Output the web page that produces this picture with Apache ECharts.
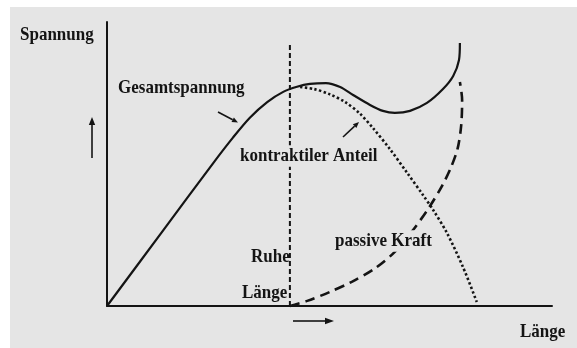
<!DOCTYPE html>
<html>
<head>
<meta charset="utf-8">
<script src="https://cdn.jsdelivr.net/npm/echarts@6/dist/echarts.min.js"></script>
<style>
html, body { margin: 0; padding: 0; background: #ffffff; }
#main { width: 577px; height: 348px; }
</style>
</head>
<body>
<div id="main"></div>
<script>
// Länge (0..100) / Spannung (0..100)
var totalX = [0, 12, 24, 28.3, 32.1, 36.0, 39.6, 42.7, 45.6, 49.2, 52.4, 55.3, 59.1, 62.0, 64.7, 68.1, 71.9, 75.5, 77.8, 79.1, 79.3];
var totalY = [0, 25.3, 50.6, 59.3, 66.3, 71.8, 75.4, 77.2, 78.2, 78.5, 77.1, 74.3, 70.8, 68.7, 68.0, 68.7, 71.5, 76.4, 81.0, 86.6, 92.6];

var activeX = [43.4, 46.5, 50.0, 53.5, 56.8, 59.8, 63.6, 67.4, 71.0, 73.3, 76.4, 80.0, 83.1];
var activeY = [77.1, 76.4, 74.6, 71.8, 67.8, 62.6, 55.2, 47.0, 39.1, 33.8, 25.7, 13.7, 1.4];

var passiveX = [41.1, 45.0, 50.0, 55.0, 60.0, 64.5, 68.5, 72.3, 75.3, 77.3, 78.8, 79.6, 79.8, 79.3];
var passiveY = [0, 1.8, 4.9, 8.5, 13.0, 18.8, 26.2, 34.5, 42.3, 48.8, 55.5, 63.7, 72.5, 78.9];

var restX = [41.1, 41.1];
var restY = [0, 92.6];

function pairs(xs, ys) {
    return xs.map(function (x, i) { return [x, ys[i]]; });
}

var bg = '#e5e5e5';
var ink = '#141414';
var font = 'bold 17px "Liberation Serif", "Times New Roman", serif';

function label(text, x, y, withBg) {
    var st = { text: text, x: 0, y: 0, font: font, fill: ink, verticalAlign: 'middle' };
    if (withBg) {
        st.backgroundColor = bg;
        st.padding = [1, 3];
    }
    return { type: 'text', x: x, y: y, scaleY: 1.12, z: 100, style: st };
}

// small arrow: shaft plus filled head
function arrow(x1, y1, x2, y2, len, half) {
    var dx = x2 - x1, dy = y2 - y1;
    var d = Math.sqrt(dx * dx + dy * dy);
    var ux = dx / d, uy = dy / d;
    var bx = x2 - ux * len, by = y2 - uy * len;
    return [
        {
            type: 'line', z: 100,
            shape: { x1: x1, y1: y1, x2: bx, y2: by },
            style: { stroke: ink, lineWidth: 1.6 }
        },
        {
            type: 'polygon', z: 100,
            shape: { points: [[x2, y2], [bx - uy * half, by + ux * half], [bx + uy * half, by - ux * half]] },
            style: { fill: ink }
        }
    ];
}

var chart = echarts.init(document.getElementById('main'));

var graphics = [
    {
        type: 'rect', z: -10, silent: true,
        shape: { x: 10, y: 7, width: 567, height: 341 },
        style: { fill: bg }
    },
    label('Spannung', 20, 35),
    label('Gesamtspannung', 118, 88),
    label('kontraktiler Anteil', 237, 156, true),
    label('Ruhe', 251, 257),
    label('Länge', 242, 293),
    label('passive Kraft', 332, 241, true),
    label('Länge', 520, 332)
];
graphics = graphics.concat(arrow(92, 158, 92, 117, 8, 3.2));
graphics = graphics.concat(arrow(293, 321, 334, 321, 9, 3.2));
graphics = graphics.concat(arrow(218, 112, 238, 122.5, 6, 2.6));
graphics = graphics.concat(arrow(343, 137, 359, 122, 6, 2.6));

option = {
    animation: false,
    grid: {
        left: 107,
        right: 25,
        top: 22,
        bottom: 42
    },
    xAxis: {
        type: 'value',
        min: 0,
        max: 100,
        axisLine: { show: true, lineStyle: { color: ink, width: 2 } },
        axisTick: { show: false },
        axisLabel: { show: false },
        splitLine: { show: false }
    },
    yAxis: {
        type: 'value',
        min: 0,
        max: 100,
        axisLine: { show: true, lineStyle: { color: ink, width: 2 } },
        axisTick: { show: false },
        axisLabel: { show: false },
        splitLine: { show: false }
    },
    graphic: graphics,
    series: [
        {
            name: 'Ruhelänge',
            type: 'line',
            data: pairs(restX, restY),
            showSymbol: false,
            clip: false,
            lineStyle: { color: ink, width: 2, type: [5, 3] }
        },
        {
            name: 'passive Kraft',
            type: 'line',
            data: pairs(passiveX, passiveY),
            showSymbol: false,
            smooth: 0.3,
            clip: false,
            lineStyle: { color: ink, width: 2.6, type: [10, 6] }
        },
        {
            name: 'kontraktiler Anteil',
            type: 'line',
            data: pairs(activeX, activeY),
            showSymbol: false,
            smooth: 0.3,
            clip: false,
            lineStyle: { color: ink, width: 2.6, type: [2.4, 2.4] }
        },
        {
            name: 'Gesamtspannung',
            type: 'line',
            data: pairs(totalX, totalY),
            showSymbol: false,
            smooth: 0.3,
            clip: false,
            lineStyle: { color: ink, width: 2.2 }
        }
    ]
};
chart.setOption(option);
</script>
</body>
</html>
